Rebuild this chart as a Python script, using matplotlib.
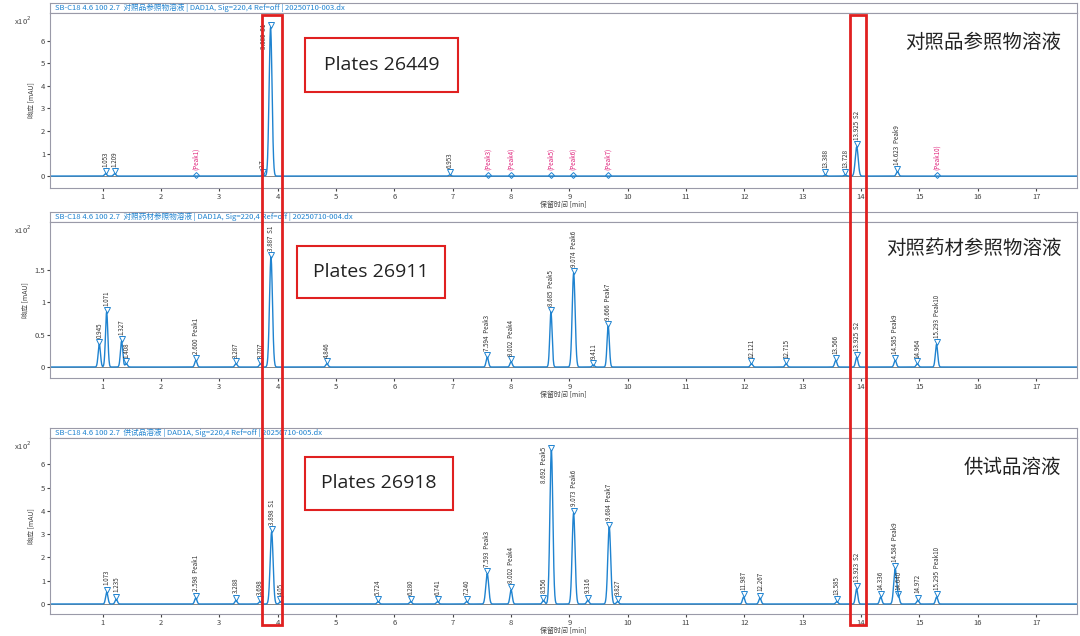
import numpy as np
import matplotlib.pyplot as plt
from matplotlib.patches import Rectangle

plt.rcParams['font.family'] = ['Noto Sans CJK SC', 'DejaVu Sans']

# peak lists: retention time, height (x10^2 mAU), label
p1_t = [1.053, 1.209, 3.75, 3.880, 6.953, 13.388, 13.728, 13.925, 14.623]
p1_h = [0.1, 0.1, 0.05, 6.6, 0.05, 0.05, 0.05, 1.3, 0.2]
p1_lab = ['1.053', '1.209', '3.7', '3.880  S1', '6.953', '13.388', '13.728', '13.925  S2', '14.623  Peak9']
p1_miss_t = [2.6, 7.6, 8.0, 8.68, 9.07, 9.67, 15.3]
p1_miss = ['(Peak1)', '(Peak3)', '(Peak4)', '(Peak5)', '(Peak6)', '(Peak7)', '(Peak10)']

p2_t = [0.945, 1.071, 1.327, 1.408, 2.600, 3.287, 3.707, 3.887, 4.846, 7.594, 8.002, 8.685,
        9.074, 9.411, 9.666, 12.121, 12.715, 13.566, 13.925, 14.585, 14.964, 15.293]
p2_h = [0.35, 0.85, 0.4, 0.05, 0.1, 0.05, 0.05, 1.7, 0.05, 0.15, 0.08, 0.85,
        1.45, 0.03, 0.63, 0.05, 0.05, 0.1, 0.15, 0.1, 0.05, 0.35]
p2_lab = ['0.945', '1.071', '1.327', '1.408', '2.600  Peak1', '3.287', '3.707', '3.887  S1', '4.846',
          '7.594  Peak3', '8.002  Peak4', '8.685  Peak5', '9.074  Peak6', '9.411', '9.666  Peak7',
          '12.121', '12.715', '13.566', '13.925  S2', '14.585  Peak9', '14.964', '15.293  Peak10']

p3_t = [1.073, 1.235, 2.598, 3.288, 3.698, 3.898, 4.05, 5.724, 6.280, 6.741, 7.240, 7.593, 8.002,
        8.556, 8.692, 9.073, 9.316, 9.684, 9.827, 11.987, 12.267, 13.585, 13.923, 14.336,
        14.584, 14.640, 14.972, 15.295]
p3_h = [0.5, 0.2, 0.25, 0.15, 0.1, 3.1, 0.1, 0.1, 0.1, 0.1, 0.1, 1.3, 0.6,
        0.15, 6.6, 3.9, 0.15, 3.3, 0.1, 0.3, 0.25, 0.1, 0.65, 0.3,
        1.5, 0.3, 0.15, 0.3]
p3_lab = ['1.073', '1.235', '2.598  Peak1', '3.288', '3.698', '3.898  S1', '4.05', '5.724', '6.280',
          '6.741', '7.240', '7.593  Peak3', '8.002  Peak4', '8.556', '8.692  Peak5', '9.073  Peak6',
          '9.316', '9.684  Peak7', '9.827', '11.987', '12.267', '13.585', '13.923  S2', '14.336',
          '14.584  Peak9', '14.640', '14.972', '15.295  Peak10']

headers = ['SB-C18 4.6 100 2.7  对照品参照物溶液 | DAD1A, Sig=220,4 Ref=off | 20250710-003.dx',
           'SB-C18 4.6 100 2.7  对照药材参照物溶液 | DAD1A, Sig=220,4 Ref=off | 20250710-004.dx',
           'SB-C18 4.6 100 2.7  供试品溶液 | DAD1A, Sig=220,4 Ref=off | 20250710-005.dx']
titles = ['对照品参照物溶液', '对照药材参照物溶液', '供试品溶液']
plates = ['Plates 26449', 'Plates 26911', 'Plates 26918']

W, H = 1080, 636
blue = '#1f83d0'
fig = plt.figure(figsize=(W / 100, H / 100), dpi=100)

def fr(x0, y0, x1, y1):
    return [x0 / W, 1 - y1 / H, (x1 - x0) / W, (y1 - y0) / H]

panels = [
    (p1_t, p1_h, p1_lab, (13, 188), (-0.53, 7.24), [0, 1, 2, 3, 4, 5, 6], (305, 38, 458, 92)),
    (p2_t, p2_h, p2_lab, (222, 378), (-0.17, 2.24), [0, 0.5, 1, 1.5], (297, 246, 445, 298)),
    (p3_t, p3_h, p3_lab, (438, 614), (-0.43, 7.13), [0, 1, 2, 3, 4, 5, 6], (305, 457, 453, 510)),
]

x = np.linspace(0.1, 17.7, 6000)
for i, (ts, hs, labs, (ya, yb), ylim, yt, box) in enumerate(panels):
    # header strip
    hax = fig.add_axes(fr(50, ya - 10, 1077, ya))
    hax.set_xticks([]); hax.set_yticks([])
    for s in hax.spines.values():
        s.set_color('#9a9aa8')
    hax.text(0.005, 0.5, headers[i], fontsize=5.5, color=blue, va='center', transform=hax.transAxes)

    ax = fig.add_axes(fr(50, ya, 1077, yb))
    y = np.zeros_like(x)
    for t, h in zip(ts, hs):
        w = 0.025 if h > 1 else 0.02
        y += h * np.exp(-0.5 * ((x - t) / w) ** 2)
    ax.plot(x, y, color=blue, lw=1.0)
    ax.axhline(0, color='#555555', lw=0.5, zorder=0)
    span = ylim[1] - ylim[0]
    for t, h, lab in zip(ts, hs, labs):
        ax.plot(t, h + span * 0.015, marker='v', ms=4, mfc='none', mec=blue, mew=0.7)
        if h + span * 0.2 > ylim[1]:
            ax.text(t - 0.05, h + span * 0.02, lab, rotation=90, fontsize=4.5, ha='right', va='top', color='#333333')
        else:
            ax.text(t, h + span * 0.04, lab, rotation=90, fontsize=4.5, ha='center', va='bottom', color='#333333')
    if i == 0:
        for t, lab in zip(p1_miss_t, p1_miss):
            ax.plot(t, 0.05, marker='D', ms=3, mfc='none', mec=blue, mew=0.7)
            ax.text(t, 0.25, lab, rotation=90, fontsize=4.5, ha='center', va='bottom', color='#e0207a')
    ax.set_xlim(0.1, 17.7)
    ax.set_ylim(*ylim)
    ax.set_xticks(range(1, 18))
    ax.set_yticks(yt)
    ax.set_yticklabels([f'{v:g}' if v not in (0.5, 1.5) else f'{v}' for v in yt])
    ax.tick_params(labelsize=5.5, length=2, pad=1.5, colors='#444444')
    for s in ax.spines.values():
        s.set_color('#9a9aa8')
    ax.set_xlabel('保留时间 [min]', fontsize=5, labelpad=0, color='#444444')
    ax.set_ylabel('响应 [mAU]', fontsize=5, labelpad=4, color='#444444')
    ax.text(-0.035, 0.99, 'x10$^2$', fontsize=5.5, transform=ax.transAxes, ha='left', va='top', color='#444444')
    ax.text(0.985, 0.83, titles[i], fontsize=14, ha='right', va='center', transform=ax.transAxes, color='#222222')

    bx0, by0, bx1, by1 = box
    fig.patches.append(Rectangle((bx0 / W, 1 - by1 / H), (bx1 - bx0) / W, (by1 - by0) / H,
                                 transform=fig.transFigure, fill=True, fc='white', ec='#e02020', lw=1.5))
    fig.text((bx0 + bx1) / 2 / W, 1 - (by0 + by1) / 2 / H, plates[i], fontsize=14, ha='center', va='center',
             color='#222222', family=['Open Sans', 'DejaVu Sans'])

for x0, x1 in [(262, 282), (850, 866)]:
    fig.patches.append(Rectangle((x0 / W, 1 - 625 / H), (x1 - x0) / W, 610 / H,
                                 transform=fig.transFigure, fill=False, ec='#e02020', lw=2, zorder=10))

fig.savefig('out.png', dpi=100)
